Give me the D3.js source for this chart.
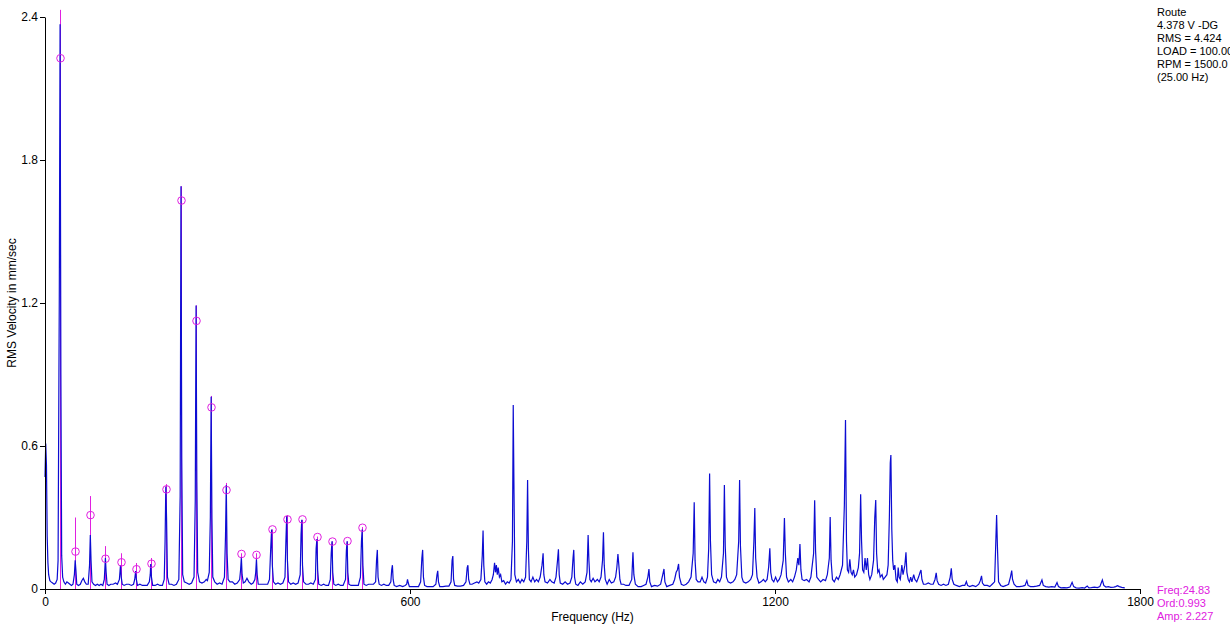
<!DOCTYPE html>
<html><head><meta charset="utf-8">
<script src="https://cdn.jsdelivr.net/npm/d3@7"></script>
<style>
body{margin:0;background:#fff;overflow:hidden}
svg text{font-family:Arial,"Liberation Sans",sans-serif;font-size:12px}
</style>
</head><body>
<svg id="c" width="1230" height="631"></svg>
<script>
// ---------- data ----------
const yTicks = [0, 0.6, 1.2, 1.8, 2.4];
const xTicks = [0, 600, 1200, 1800];
const xTitle = "Frequency (Hz)";
const yTitle = "RMS Velocity in mm/sec";
const infoLines = ["Route", "4.378 V -DG", "RMS = 4.424", "LOAD = 100.00", "RPM = 1500.0", "(25.00 Hz)"];
const cursorLines = ["Freq:24.83", "Ord:0.993", "Amp: 2.227"];

// order markers (1x .. 21x of 24.83 Hz)
const orderHz = [24.83, 49.66, 74.49, 99.32, 124.15, 148.98, 173.81, 198.64, 223.47, 248.3, 273.13,
  297.96, 322.79, 347.62, 372.45, 397.28, 422.11, 446.94, 471.77, 496.6, 521.43];
const orderAmp = [2.227, 0.157, 0.31, 0.127, 0.112, 0.083, 0.106, 0.418, 1.63, 1.125, 0.762,
  0.415, 0.147, 0.143, 0.25, 0.292, 0.292, 0.218, 0.199, 0.201, 0.257];
const orderTop = [2.43, 0.30, 0.39, 0.18, 0.15, 0.109, 0.13, 0.44, 1.69, 1.19, 0.81,
  0.445, 0.15, 0.15, 0.25, 0.31, 0.29, 0.22, 0.2, 0.2, 0.26];

// spectrum [Hz, mm/s]
const spectrum = [
[0,0.47],[1.2,0.61],[2.4,0.52],[3.6,0.22],[4.8,0.11],[6,0.06],[8,0.035],[10,0.03],[12.5,0.025],[15,0.02],[17.5,0.025],[20,0.04],[21.5,0.12],[23.5,1.23],[24.8,2.37],[26.1,0.9],[27.4,0.14],[29,0.05],[31,0.03],[33.5,0.02],[36,0.03],[38.5,0.025],[41,0.02],[43.5,0.015],[46,0.02],[48.3,0.06],[49.6,0.12],[50.8,0.08],[52.2,0.02],[55,0.015],[58,0.02],[60.5,0.035],[63,0.045],[65.5,0.03],[68,0.02],[71,0.02],[73.2,0.1],[74.5,0.227],[75.7,0.12],[77.2,0.03],[80,0.02],[83,0.015],[86,0.02],[89,0.015],[92,0.02],[95,0.015],[97.5,0.04],[99.3,0.13],[100.5,0.07],[102,0.02],[105,0.015],[108,0.02],[112,0.02],[116,0.025],[119,0.02],[122.3,0.04],[124.1,0.1],[125.3,0.05],[127,0.02],[130,0.015],[134,0.02],[138,0.02],[142,0.015],[145.5,0.02],[147.5,0.04],[149,0.075],[150.2,0.04],[152,0.015],[156,0.02],[160,0.015],[164,0.015],[168,0.015],[171.5,0.03],[173,0.06],[173.8,0.105],[175,0.05],[177,0.015],[181,0.015],[185,0.02],[189,0.015],[193,0.015],[196,0.04],[197.4,0.2],[198.6,0.43],[199.8,0.3],[201.3,0.05],[204,0.02],[208,0.02],[212,0.015],[216,0.02],[220,0.04],[222.2,0.39],[223.5,1.69],[224.8,0.55],[226.3,0.06],[229,0.03],[233,0.025],[237,0.02],[241,0.025],[245,0.05],[247,0.37],[248.3,1.19],[249.6,0.45],[251,0.07],[254,0.03],[258,0.025],[262,0.03],[265,0.04],[267,0.035],[270,0.07],[271.8,0.3],[273.1,0.807],[274.4,0.3],[275.8,0.05],[279,0.03],[283,0.02],[287,0.025],[291,0.02],[295,0.05],[296.7,0.22],[298,0.436],[299.3,0.15],[301,0.04],[304,0.03],[308,0.03],[312,0.02],[316,0.025],[320,0.04],[321.5,0.08],[322.8,0.133],[324,0.06],[326,0.025],[329,0.03],[332,0.045],[335,0.03],[339,0.02],[342,0.025],[345,0.04],[346.4,0.07],[347.6,0.125],[348.8,0.06],[350.5,0.02],[354,0.02],[358,0.02],[362,0.02],[366,0.02],[369,0.04],[371.2,0.18],[372.5,0.25],[373.7,0.1],[375.5,0.03],[379,0.02],[383,0.025],[387,0.02],[391,0.025],[394.5,0.05],[396,0.2],[397.3,0.306],[398.5,0.12],[400.3,0.03],[404,0.02],[408,0.025],[412,0.02],[416,0.025],[419.5,0.06],[420.9,0.23],[422.1,0.29],[423.3,0.1],[425,0.03],[429,0.02],[433,0.02],[437,0.025],[441,0.02],[444.5,0.04],[445.7,0.17],[447,0.21],[448.2,0.08],[450,0.02],[454,0.015],[458,0.02],[462,0.015],[466,0.015],[469,0.04],[470.5,0.15],[471.8,0.2],[473,0.07],[474.8,0.02],[478,0.015],[482,0.02],[486,0.015],[490,0.015],[494,0.04],[495.4,0.16],[496.6,0.2],[497.8,0.07],[499.5,0.02],[503,0.015],[507,0.015],[511,0.015],[515,0.015],[518.5,0.05],[520.2,0.2],[521.4,0.25],[522.6,0.1],[524.3,0.02],[528,0.015],[532,0.02],[536,0.02],[540,0.02],[543.5,0.03],[545,0.12],[546.3,0.164],[547.5,0.05],[549.3,0.02],[553,0.015],[557,0.02],[561,0.015],[565,0.015],[568.5,0.03],[569.9,0.08],[571.1,0.1],[572.3,0.04],[574,0.015],[578,0.01],[583,0.015],[588,0.01],[592,0.015],[594.5,0.02],[595.9,0.04],[597.2,0.025],[599,0.01],[604,0.01],[609,0.01],[614,0.01],[617.5,0.03],[619.5,0.13],[620.8,0.164],[622.1,0.05],[624,0.015],[628,0.01],[633,0.01],[638,0.01],[642.5,0.02],[644.4,0.06],[645.6,0.076],[646.8,0.03],[649,0.01],[654,0.01],[659,0.012],[664,0.012],[667.5,0.03],[669.2,0.12],[670.4,0.138],[671.6,0.04],[673.5,0.015],[678,0.012],[683,0.012],[688,0.015],[692,0.03],[694,0.09],[695.2,0.1],[696.4,0.04],[698.5,0.02],[702,0.02],[706,0.025],[710,0.03],[713,0.025],[716.5,0.04],[718.8,0.14],[720.1,0.245],[721.3,0.1],[723,0.03],[726,0.02],[729,0.03],[732,0.025],[735,0.04],[737,0.06],[739,0.11],[740.5,0.07],[742,0.1],[743.5,0.06],[745,0.09],[747,0.05],[749,0.06],[751,0.03],[754,0.035],[757,0.02],[760,0.03],[763,0.025],[766,0.04],[768.4,0.2],[769.7,0.772],[771,0.4],[772.3,0.06],[775,0.03],[778,0.04],[781,0.025],[784,0.04],[787,0.03],[790,0.05],[792,0.2],[793.3,0.457],[794.6,0.17],[796.2,0.04],[799,0.03],[802,0.05],[805,0.03],[808,0.04],[811,0.03],[814,0.05],[817,0.1],[818.8,0.15],[820,0.06],[822,0.03],[826,0.025],[830,0.04],[833,0.03],[837,0.025],[840,0.05],[842.5,0.12],[844,0.167],[845.3,0.06],[847,0.025],[851,0.02],[855,0.03],[859,0.02],[863,0.025],[866,0.05],[868,0.13],[869.2,0.164],[870.5,0.05],[872.5,0.02],[876,0.015],[880,0.03],[884,0.02],[888,0.03],[891,0.07],[892.8,0.227],[894.1,0.12],[895.7,0.04],[898,0.03],[901,0.045],[904,0.03],[908,0.04],[911,0.03],[914,0.05],[916.5,0.12],[918,0.238],[919.3,0.1],[921,0.04],[924,0.02],[927.5,0.04],[931,0.025],[935,0.03],[938,0.05],[940,0.09],[941.8,0.147],[943.3,0.1],[945,0.04],[947,0.02],[951,0.02],[955,0.015],[960,0.015],[964.5,0.04],[966.5,0.154],[968,0.06],[970.5,0.02],[975,0.01],[980,0.01],[984,0.015],[988,0.02],[991,0.05],[992.8,0.084],[994.2,0.03],[997,0.01],[1002,0.015],[1007,0.012],[1012,0.02],[1015.5,0.06],[1017.5,0.084],[1019,0.03],[1022,0.01],[1027,0.015],[1032,0.02],[1035,0.04],[1037.5,0.07],[1039.5,0.08],[1041.5,0.105],[1043,0.05],[1046,0.02],[1050,0.015],[1054,0.02],[1058,0.03],[1062,0.05],[1065.5,0.15],[1067.2,0.364],[1068.6,0.12],[1070.5,0.04],[1073.5,0.03],[1077,0.03],[1080,0.05],[1083,0.03],[1086,0.025],[1089,0.05],[1091,0.17],[1092.5,0.485],[1093.9,0.2],[1095.8,0.06],[1099,0.03],[1103,0.025],[1106,0.04],[1109,0.03],[1112,0.05],[1115.3,0.15],[1116.8,0.436],[1118.2,0.18],[1120.2,0.05],[1123,0.03],[1127,0.025],[1131,0.03],[1134,0.04],[1137,0.06],[1140.3,0.2],[1141.8,0.457],[1143.2,0.18],[1145.5,0.05],[1148,0.03],[1152,0.025],[1156,0.03],[1160,0.04],[1163,0.06],[1165.3,0.2],[1166.8,0.34],[1168.2,0.13],[1170.5,0.05],[1173.5,0.025],[1177,0.03],[1181,0.04],[1184,0.03],[1187,0.04],[1189.5,0.09],[1191.5,0.171],[1193,0.07],[1195,0.04],[1198,0.03],[1201,0.05],[1204,0.03],[1207,0.04],[1210,0.06],[1213.5,0.12],[1215.5,0.298],[1217,0.15],[1219,0.05],[1222,0.03],[1226,0.04],[1229,0.03],[1232,0.05],[1235,0.08],[1237.5,0.13],[1239.3,0.1],[1241,0.189],[1242.6,0.08],[1244.5,0.04],[1248,0.035],[1252,0.04],[1256,0.03],[1259,0.05],[1263.5,0.15],[1265.2,0.372],[1266.7,0.16],[1268.7,0.05],[1271.5,0.04],[1275,0.03],[1279,0.04],[1283,0.035],[1286,0.06],[1289.3,0.13],[1290.7,0.302],[1292.2,0.12],[1294.5,0.04],[1297.5,0.03],[1301,0.05],[1304,0.04],[1307,0.06],[1311,0.1],[1314,0.35],[1315.9,0.709],[1317.5,0.2],[1319,0.08],[1321,0.07],[1323,0.125],[1325,0.07],[1327,0.06],[1329,0.08],[1331,0.05],[1334,0.06],[1337,0.09],[1339,0.15],[1340.8,0.397],[1342.3,0.2],[1344,0.08],[1346,0.07],[1348,0.13],[1350,0.08],[1352,0.13],[1354,0.06],[1356,0.04],[1359,0.06],[1362,0.12],[1364,0.3],[1365.6,0.373],[1367,0.15],[1369,0.07],[1371,0.08],[1373,0.05],[1376,0.06],[1378,0.04],[1381,0.05],[1384,0.06],[1386,0.1],[1388,0.3],[1389.5,0.53],[1390.5,0.562],[1392,0.25],[1393.5,0.12],[1395,0.08],[1397,0.1],[1399,0.04],[1401,0.03],[1402.5,0.09],[1404,0.05],[1406,0.04],[1408.5,0.1],[1410.5,0.06],[1413.5,0.1],[1415.3,0.154],[1416.8,0.07],[1419,0.04],[1421,0.03],[1423,0.05],[1425,0.03],[1428,0.06],[1430,0.04],[1433,0.03],[1436,0.05],[1438.5,0.07],[1440,0.08],[1441.5,0.04],[1444,0.02],[1448,0.02],[1452,0.025],[1456,0.02],[1460,0.02],[1463,0.04],[1465,0.068],[1466.5,0.035],[1469,0.02],[1473,0.015],[1477,0.02],[1481,0.015],[1485,0.02],[1488,0.05],[1489.8,0.087],[1491.3,0.04],[1494,0.02],[1498,0.015],[1503,0.01],[1508,0.015],[1512,0.015],[1514.6,0.031],[1516.5,0.015],[1520,0.01],[1525,0.015],[1530,0.01],[1535,0.02],[1537.5,0.035],[1539.5,0.055],[1541,0.025],[1544,0.015],[1549,0.015],[1553,0.01],[1557,0.02],[1561,0.03],[1563,0.2],[1564.3,0.31],[1565.6,0.18],[1567.5,0.03],[1571,0.015],[1575,0.01],[1580,0.015],[1584,0.02],[1587,0.05],[1589.1,0.077],[1590.5,0.04],[1593,0.02],[1597,0.01],[1602,0.01],[1607,0.012],[1611,0.015],[1614,0.035],[1616,0.015],[1620,0.01],[1625,0.01],[1630,0.012],[1635,0.015],[1638.8,0.038],[1641,0.015],[1645,0.01],[1650,0.008],[1655,0.01],[1660,0.008],[1663.6,0.027],[1666,0.01],[1670,0.005],[1675,0.006],[1680,0.005],[1685,0.008],[1688.4,0.028],[1691,0.01],[1695,0.005],[1700,0.004],[1705,0.006],[1709,0.004],[1713.3,0.012],[1716,0.005],[1720,0.006],[1725,0.008],[1730,0.006],[1734,0.01],[1738.1,0.038],[1740.5,0.015],[1744,0.008],[1748,0.01],[1752,0.007],[1757,0.008],[1760,0.01],[1763,0.014],[1766,0.01],[1770,0.007],[1775,0.005]
];

// ---------- drawing ----------
const svg = d3.select("#c");
const x = d3.scaleLinear().domain([0, 1800]).range([45, 1140]);
const y = d3.scaleLinear().domain([0, 2.4]).range([589, 17]);
const blue = "#0c0cd2", mag = "#e020e0";

// magenta order lines
svg.append("g").selectAll("line").data(orderHz).join("line")
  .attr("x1", d => Math.round(x(d)) + 0.5).attr("x2", d => Math.round(x(d)) + 0.5)
  .attr("y1", y(0)).attr("y2", (d, i) => y(orderTop[i]))
  .attr("stroke", mag).attr("stroke-width", 1);

// spectrum
svg.append("path").datum(spectrum)
  .attr("d", d3.line().x(d => x(d[0])).y(d => y(d[1])))
  .attr("fill", "none").attr("stroke", blue).attr("stroke-width", 1.2)
  .attr("stroke-linejoin", "miter");

// order circles
svg.append("g").selectAll("circle").data(orderHz).join("circle")
  .attr("cx", d => Math.round(x(d)) + 0.5).attr("cy", (d, i) => y(orderAmp[i]))
  .attr("r", 3.8).attr("fill", "none").attr("stroke", mag).attr("stroke-width", 1);

// axes
const yAxis = d3.axisLeft(y).tickValues(yTicks).tickSize(5).tickSizeOuter(0)
  .tickFormat(d => d === 0 ? "0" : d3.format(".1f")(d));
const gy = svg.append("g").attr("transform", "translate(45,0)").call(yAxis);
const xAxis = d3.axisBottom(x).tickValues(xTicks).tickSize(5).tickSizeOuter(0).tickFormat(d3.format("d"));
const gx = svg.append("g").attr("transform", "translate(0,589)").call(xAxis);
[gx, gy].forEach(g => {
  g.selectAll("path,line").attr("stroke", "#000");
  g.selectAll("text").attr("fill", "#000").style("font-size", "12px")
    .style("font-family", "Arial, 'Liberation Sans', sans-serif");
});
gy.selectAll("text").attr("x", -7);
gx.selectAll("text").attr("y", 8);

// titles
svg.append("text").attr("x", x(900)).attr("y", 621).attr("text-anchor", "middle").text(xTitle);
svg.append("text").attr("transform", `translate(16,${y(1.2)}) rotate(-90)`)
  .attr("text-anchor", "middle").text(yTitle);

// info block
svg.append("g").selectAll("text").data(infoLines).join("text")
  .attr("x", 1157).attr("y", (d, i) => 16 + i * 13).style("font-size", "11px").text(d => d);
svg.append("g").selectAll("text").data(cursorLines).join("text")
  .attr("x", 1157).attr("y", (d, i) => 594 + i * 13).attr("fill", mag).style("font-size", "11px").text(d => d);
</script>
</body></html>
